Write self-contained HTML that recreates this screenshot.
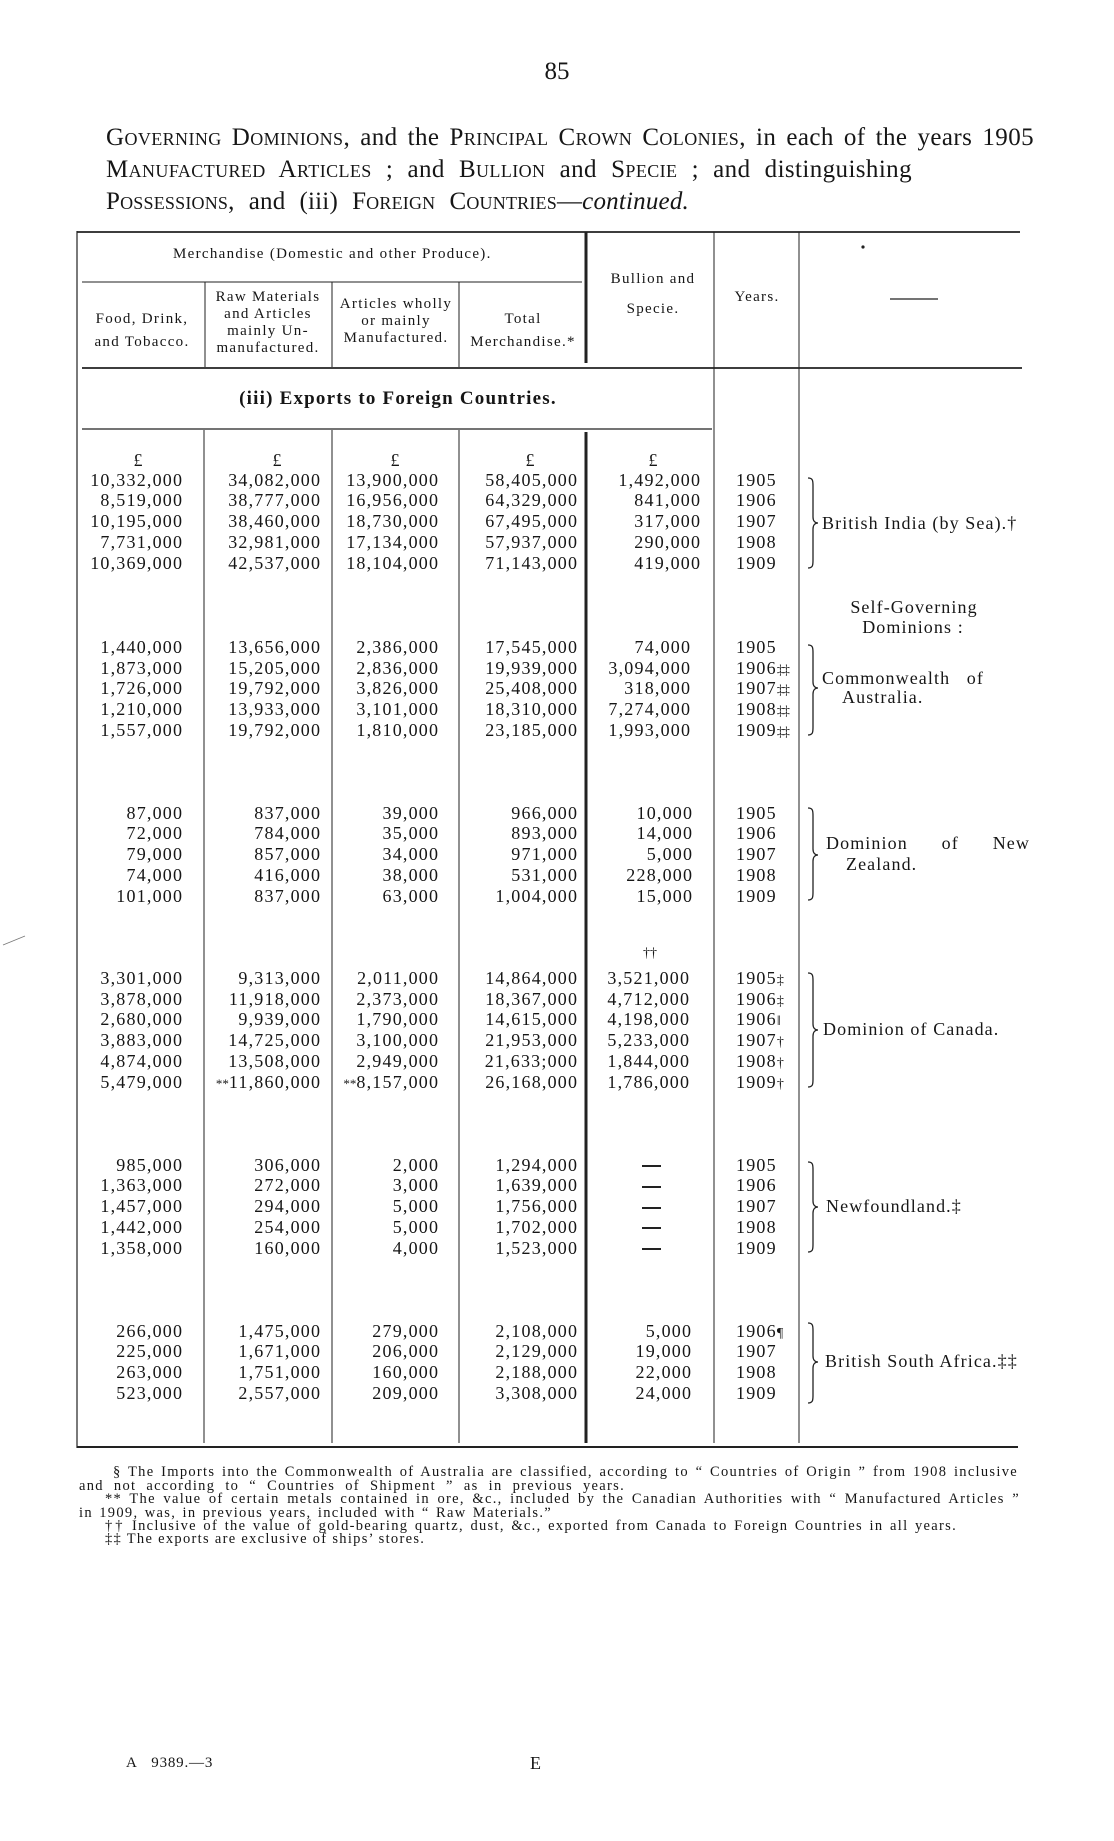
<!DOCTYPE html>
<html>
<head>
<meta charset="utf-8">
<style>
html,body{margin:0;padding:0;}
body{width:1114px;height:1841px;position:relative;background:#fff;font-family:"Liberation Serif",serif;color:#161616;overflow:hidden;}
.a{position:absolute;white-space:nowrap;}
.j{position:absolute;text-align:justify;text-align-last:justify;}
.sc{font-variant:small-caps;}
.ttl{font-size:25px;line-height:30px;letter-spacing:0.4px;}
.h{position:absolute;width:200px;text-align:center;font-size:15px;line-height:17px;letter-spacing:1.3px;white-space:nowrap;}
.d{position:absolute;font-size:18px;line-height:20.7px;letter-spacing:1.2px;text-align:right;white-space:pre;}
.y{position:absolute;font-size:18px;line-height:20.7px;letter-spacing:1.2px;text-align:left;white-space:pre;left:736px;}
.m{font-size:14px;line-height:0;letter-spacing:-1px;}
.s{font-size:13px;line-height:0;letter-spacing:0;}
.lb{position:absolute;font-size:18px;line-height:20px;letter-spacing:1.1px;white-space:nowrap;}
.lbj{position:absolute;font-size:18px;line-height:20px;letter-spacing:1.1px;text-align:justify;text-align-last:justify;}
.pd{position:absolute;font-size:18px;line-height:20px;width:30px;text-align:center;}
.fn{position:absolute;font-size:14.5px;line-height:14px;letter-spacing:1.3px;}
.fnj{position:absolute;font-size:14.5px;line-height:14px;letter-spacing:1.3px;text-align:justify;text-align-last:justify;}
.dash{position:absolute;left:642px;width:19px;height:2px;background:#222;}
</style>
</head>
<body>

<!-- page number -->
<div class="a" style="left:537px;top:57px;width:40px;text-align:center;font-size:25px;line-height:30px;">85</div>

<!-- title -->
<div class="j ttl" style="left:106px;top:123px;width:928px;"><span class="sc">Governing Dominions</span>, and the <span class="sc">Principal Crown Colonies</span>, in each of the years 1905</div>
<div class="j ttl" style="left:106px;top:155px;width:806px;"><span class="sc">Manufactured Articles</span> ; and <span class="sc">Bullion</span> and <span class="sc">Specie</span> ; and distinguishing</div>
<div class="j ttl" style="left:106px;top:187px;width:583px;letter-spacing:0.2px;"><span class="sc">Possessions</span>, and (iii) <span class="sc">Foreign Countries</span>—<i>continued.</i></div>

<!-- lines and braces -->
<svg width="1114" height="1841" style="position:absolute;left:0;top:0;" xmlns="http://www.w3.org/2000/svg">
<g stroke="#222" fill="none">
<line x1="77" y1="232" x2="1020" y2="232" stroke-width="1.8"/>
<line x1="77" y1="231" x2="77" y2="1448" stroke-width="1.2"/>
<line x1="82" y1="282" x2="582" y2="282" stroke-width="1.1"/>
<line x1="205" y1="282" x2="205" y2="367" stroke-width="1"/>
<line x1="332" y1="282" x2="332" y2="367" stroke-width="1"/>
<line x1="459" y1="282" x2="459" y2="367" stroke-width="1"/>
<line x1="586" y1="232" x2="586" y2="363" stroke-width="3"/>
<line x1="586" y1="432" x2="586" y2="1443" stroke-width="3"/>
<line x1="714" y1="232" x2="714" y2="1443" stroke-width="1"/>
<line x1="799" y1="232" x2="799" y2="1443" stroke-width="1"/>
<line x1="82" y1="368" x2="1022" y2="368" stroke-width="1.7"/>
<line x1="82" y1="429" x2="712" y2="429" stroke-width="1.2"/>
<line x1="204" y1="430" x2="204" y2="1443" stroke-width="1"/>
<line x1="332" y1="430" x2="332" y2="1443" stroke-width="1"/>
<line x1="459" y1="430" x2="459" y2="1443" stroke-width="1"/>
<line x1="77" y1="1447" x2="1018" y2="1447" stroke-width="2"/>
<line x1="890" y1="299" x2="938" y2="299" stroke-width="1.3"/>
<line x1="3" y1="945" x2="25" y2="936" stroke-width="0.8" stroke="#777"/>
<g stroke-width="1.3">
<path d="M808,478 C813,478 813,481 813,486 L813,517 C813,521 815,523 818,523 C815,523 813,525 813,529 L813,560 C813,565 813,568 808,568"/>
<path d="M808,645 C813,645 813,648 813,653 L813,682 C813,686 815,688 818,688 C815,688 813,690 813,694 L813,727 C813,732 813,735 808,735"/>
<path d="M808,808 C813,808 813,811 813,816 L813,849 C813,853 815,855 818,855 C815,855 813,857 813,861 L813,892 C813,897 813,900 808,900"/>
<path d="M808,973 C813,973 813,976 813,981 L813,1024 C813,1028 815,1030 818,1030 C815,1030 813,1032 813,1036 L813,1079 C813,1084 813,1087 808,1087"/>
<path d="M808,1162 C813,1162 813,1165 813,1170 L813,1201 C813,1205 815,1207 818,1207 C815,1207 813,1209 813,1213 L813,1244 C813,1249 813,1252 808,1252"/>
<path d="M808,1323 C813,1323 813,1326 813,1331 L813,1356 C813,1360 815,1362 818,1362 C815,1362 813,1364 813,1368 L813,1395 C813,1400 813,1403 808,1403"/>
</g>
</g>
<circle cx="863" cy="247" r="1.6" fill="#222"/>
</svg>

<!-- header -->
<div class="a" style="left:173px;top:246px;width:330px;font-size:15px;line-height:17px;letter-spacing:1.3px;">Merchandise (Domestic and other Produce).</div>
<div class="h" style="left:42px;top:311px;">Food, Drink,</div>
<div class="h" style="left:42px;top:334px;">and Tobacco.</div>
<div class="h" style="left:168px;top:289px;">Raw Materials<br>and Articles<br>mainly Un-<br>manufactured.</div>
<div class="h" style="left:296px;top:296px;">Articles wholly<br>or mainly<br>Manufactured.</div>
<div class="h" style="left:423px;top:311px;">Total</div>
<div class="h" style="left:423px;top:334px;">Merchandise.*</div>
<div class="h" style="left:553px;top:271px;">Bullion and</div>
<div class="h" style="left:553px;top:301px;">Specie.</div>
<div class="h" style="left:657px;top:289px;">Years.</div>

<div class="a" style="left:198px;top:388px;width:400px;text-align:center;font-size:19px;line-height:22px;font-weight:bold;letter-spacing:1.2px;">(iii) Exports to Foreign Countries.</div>

<!-- pound signs -->
<div class="pd" style="left:123px;top:450px;">£</div>
<div class="pd" style="left:262px;top:450px;">£</div>
<div class="pd" style="left:380px;top:450px;">£</div>
<div class="pd" style="left:515px;top:450px;">£</div>
<div class="pd" style="left:638px;top:450px;">£</div>

<!-- British India -->
<div class="d" style="right:930.8px;top:469.7px;">10,332,000
8,519,000
10,195,000
7,731,000
10,369,000</div>
<div class="d" style="right:792.8px;top:469.7px;">34,082,000
38,777,000
38,460,000
32,981,000
42,537,000</div>
<div class="d" style="right:674.8px;top:469.7px;">13,900,000
16,956,000
18,730,000
17,134,000
18,104,000</div>
<div class="d" style="right:535.8px;top:469.7px;">58,405,000
64,329,000
67,495,000
57,937,000
71,143,000</div>
<div class="d" style="right:412.8px;top:469.7px;">1,492,000
841,000
317,000
290,000
419,000</div>
<div class="y" style="top:469.7px;">1905
1906
1907
1908
1909</div>
<div class="lb" style="left:822px;top:513px;">British India (by Sea).†</div>

<!-- Self-Governing -->
<div class="lb" style="left:814px;top:597px;width:200px;text-align:center;">Self-Governing</div>
<div class="lb" style="left:813px;top:617px;width:200px;text-align:center;">Dominions :</div>

<!-- Australia -->
<div class="d" style="right:930.8px;top:637px;">1,440,000
1,873,000
1,726,000
1,210,000
1,557,000</div>
<div class="d" style="right:792.8px;top:637px;">13,656,000
15,205,000
19,792,000
13,933,000
19,792,000</div>
<div class="d" style="right:674.8px;top:637px;">2,386,000
2,836,000
3,826,000
3,101,000
1,810,000</div>
<div class="d" style="right:535.8px;top:637px;">17,545,000
19,939,000
25,408,000
18,310,000
23,185,000</div>
<div class="d" style="right:422.8px;top:637px;">74,000
3,094,000
318,000
7,274,000
1,993,000</div>
<div class="y" style="top:637px;">1905
1906<span class="m">‡‡</span>
1907<span class="m">‡‡</span>
1908<span class="m">‡‡</span>
1909<span class="m">‡‡</span></div>
<div class="lbj" style="left:822px;top:668px;width:162px;">Commonwealth of</div>
<div class="lb" style="left:842px;top:687px;">Australia.</div>

<!-- New Zealand -->
<div class="d" style="right:930.8px;top:802.7px;">87,000
72,000
79,000
74,000
101,000</div>
<div class="d" style="right:792.8px;top:802.7px;">837,000
784,000
857,000
416,000
837,000</div>
<div class="d" style="right:674.8px;top:802.7px;">39,000
35,000
34,000
38,000
63,000</div>
<div class="d" style="right:535.8px;top:802.7px;">966,000
893,000
971,000
531,000
1,004,000</div>
<div class="d" style="right:420.8px;top:802.7px;">10,000
14,000
5,000
228,000
15,000</div>
<div class="y" style="top:802.7px;">1905
1906
1907
1908
1909</div>
<div class="lbj" style="left:826px;top:833px;width:204px;">Dominion of New</div>
<div class="lb" style="left:846px;top:854px;">Zealand.</div>

<!-- Canada -->
<div class="a" style="left:635px;top:946px;width:30px;text-align:center;font-size:14px;line-height:16px;">††</div>
<div class="d" style="right:930.8px;top:968px;">3,301,000
3,878,000
2,680,000
3,883,000
4,874,000
5,479,000</div>
<div class="d" style="right:792.8px;top:968px;">9,313,000
11,918,000
9,939,000
14,725,000
13,508,000
<span class="s">**</span>11,860,000</div>
<div class="d" style="right:674.8px;top:968px;">2,011,000
2,373,000
1,790,000
3,100,000
2,949,000
<span class="s">**</span>8,157,000</div>
<div class="d" style="right:535.8px;top:968px;">14,864,000
18,367,000
14,615,000
21,953,000
21,633;000
26,168,000</div>
<div class="d" style="right:423.8px;top:968px;">3,521,000
4,712,000
4,198,000
5,233,000
1,844,000
1,786,000</div>
<div class="y" style="top:968px;">1905<span class="m">‡</span>
1906<span class="m">‡</span>
1906<span class="m">‖</span>
1907<span class="m">†</span>
1908<span class="m">†</span>
1909<span class="m">†</span></div>
<div class="lb" style="left:823px;top:1019px;">Dominion of Canada.</div>

<!-- Newfoundland -->
<div class="d" style="right:930.8px;top:1154.7px;">985,000
1,363,000
1,457,000
1,442,000
1,358,000</div>
<div class="d" style="right:792.8px;top:1154.7px;">306,000
272,000
294,000
254,000
160,000</div>
<div class="d" style="right:674.8px;top:1154.7px;">2,000
3,000
5,000
5,000
4,000</div>
<div class="d" style="right:535.8px;top:1154.7px;">1,294,000
1,639,000
1,756,000
1,702,000
1,523,000</div>
<div class="dash" style="top:1165px;"></div>
<div class="dash" style="top:1186px;"></div>
<div class="dash" style="top:1207px;"></div>
<div class="dash" style="top:1227px;"></div>
<div class="dash" style="top:1248px;"></div>
<div class="y" style="top:1154.7px;">1905
1906
1907
1908
1909</div>
<div class="lb" style="left:826px;top:1196px;">Newfoundland.‡</div>

<!-- British South Africa -->
<div class="d" style="right:930.8px;top:1320.7px;">266,000
225,000
263,000
523,000</div>
<div class="d" style="right:792.8px;top:1320.7px;">1,475,000
1,671,000
1,751,000
2,557,000</div>
<div class="d" style="right:674.8px;top:1320.7px;">279,000
206,000
160,000
209,000</div>
<div class="d" style="right:535.8px;top:1320.7px;">2,108,000
2,129,000
2,188,000
3,308,000</div>
<div class="d" style="right:421.8px;top:1320.7px;">5,000
19,000
22,000
24,000</div>
<div class="y" style="top:1320.7px;">1906<span class="m">¶</span>
1907
1908
1909</div>
<div class="lb" style="left:825px;top:1351px;">British South Africa.‡‡</div>

<!-- footnotes -->
<div class="fnj" style="left:113px;top:1465px;width:905px;">§ The Imports into the Commonwealth of Australia are classified, according to “ Countries of Origin ” from 1908 inclusive</div>
<div class="fnj" style="left:79px;top:1479px;width:546px;">and not according to “ Countries of Shipment ” as in previous years.</div>
<div class="fnj" style="left:105px;top:1492px;width:915px;">** The value of certain metals contained in ore, &amp;c., included by the Canadian Authorities with “ Manufactured Articles ”</div>
<div class="fnj" style="left:79px;top:1506px;width:473px;">in 1909, was, in previous years, included with “ Raw Materials.”</div>
<div class="fnj" style="left:105px;top:1519px;width:852px;">†† Inclusive of the value of gold-bearing quartz, dust, &amp;c., exported from Canada to Foreign Countries in all years.</div>
<div class="fn" style="left:105px;top:1532px;white-space:nowrap;">‡‡ The exports are exclusive of ships’ stores.</div>

<!-- bottom -->
<div class="a" style="left:126px;top:1754px;font-size:15px;line-height:18px;letter-spacing:0.8px;">A&nbsp;&nbsp;&nbsp;9389.—3</div>
<div class="a" style="left:530px;top:1752px;font-size:18px;line-height:22px;">E</div>

</body>
</html>
